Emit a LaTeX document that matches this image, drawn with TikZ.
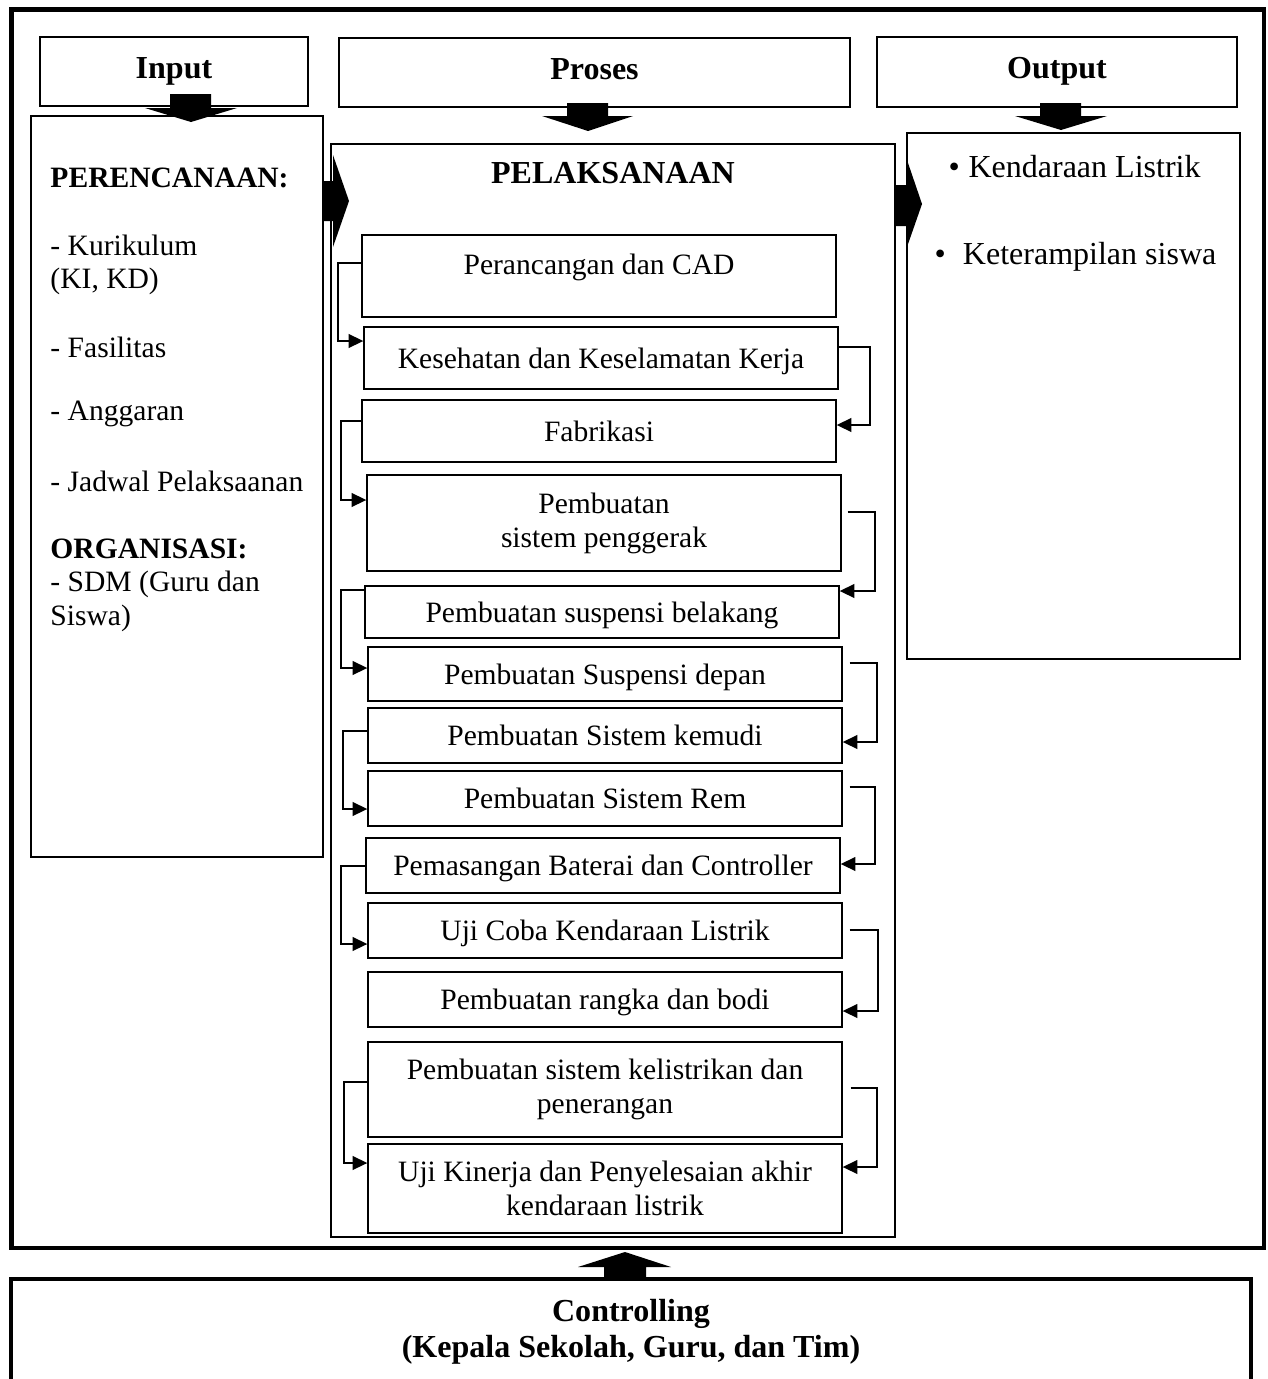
\documentclass[tikz,border=0pt]{standalone}
\usepackage{fontspec}
\setmainfont{Liberation Serif}
\usetikzlibrary{arrows.meta,calc}
\newcommand\boxat[7][]{\node[box,#1,minimum width={(#5-#3)*0.406pt},minimum height={(#6-#4)*0.406pt}] (#2) at ({(#3+#5)/2},{(#4+#6)/2}) {#7};}
\tikzset{
  box/.style={draw,line width=0.5pt,inner sep=0pt,align=center,font=\fontsize{12}{13.8}\selectfont},
  one/.style={text height=9.6pt,text depth=1.2pt},
  hdr/.style={font=\bfseries\fontsize{13}{15}\selectfont,text height=8.5pt,text depth=2.9pt},
  lst/.style={inner sep=0pt,anchor=west,font=\fontsize{12}{14}\selectfont},
  olst/.style={inner sep=0pt,anchor=west,font=\fontsize{13}{15}\selectfont},
  conn/.style={line width=0.9pt,-{Triangle[length=6pt,width=5.5pt]}},
  blk/.style={fill=black},
}
\begin{document}
\begin{tikzpicture}[x=0.406pt,y=-0.406pt]
\useasboundingbox (0,0) rectangle (1267,1379);
% outer frame
\boxat[line width=2pt]{frame}{11.5}{9.5}{1264}{1248}{}
% controlling box (bottom runs off the page)
\draw[line width=1.6pt] (11,1385) -- (11,1279) -- (1251,1279) -- (1251,1385);
\node[font=\bfseries\fontsize{13}{14.6}\selectfont,align=center,inner sep=0pt] (ctrl) at (631,1332) {Controlling\\(Kepala Sekolah, Guru, dan Tim)};
% headers
\boxat[hdr]{hin}{40}{37}{308}{106}{Input}
\boxat[hdr]{hpr}{339}{38}{850}{107}{Proses}
\boxat[hdr]{hout}{877}{37}{1237}{107}{Output}
% main columns
\boxat{L}{31}{116}{323}{857}{}
\boxat{P}{331}{144}{895}{1237}{}
\boxat{O}{907}{133}{1240}{659}{}
% left column texts
\node[lst,font=\bfseries\fontsize{12}{14}\selectfont] (l0) at (50,178) {PERENCANAAN:};
\node[lst] (l1) at (50,245) {- Kurikulum};
\node[lst] (l2) at (50,281) {(KI, KD)};
\node[lst] (l3) at (50,347) {- Fasilitas};
\node[lst] (l4) at (50,414) {- Anggaran};
\node[lst] (l5) at (50,481) {- Jadwal Pelaksaanan};
\node[lst,font=\bfseries\fontsize{12}{14}\selectfont] (l6) at (50,549) {ORGANISASI:};
\node[lst] (l7) at (50,584) {- SDM (Guru dan};
\node[lst] (l8) at (50,618) {Siswa)};
% output texts
\node[olst] (o1) at (948,167) {\textbullet\hspace{3.6pt}Kendaraan Listrik};
\node[olst] (o2) at (934,257) {\textbullet\hspace{7pt}Keterampilan siswa};
% pelaksanaan title
\node[hdr,inner sep=0pt] (ptitle) at (613,177) {PELAKSANAAN};
% steps
\boxat{s1}{362}{235}{836}{317}{}
\node[inner sep=0pt,font=\fontsize{12}{13.8}\selectfont] (t1) at (599,267) {Perancangan dan CAD};
\boxat[one]{s2}{364}{327}{838}{389}{Kesehatan dan Keselamatan Kerja}
\boxat[one]{s3}{362}{400}{836}{462}{Fabrikasi}
\boxat{s4}{367}{475}{841}{571}{Pembuatan\\sistem penggerak}
\boxat[one]{s5}{365}{586}{839}{638}{Pembuatan suspensi belakang}
\boxat[one]{s6}{368}{647}{842}{701}{Pembuatan Suspensi depan}
\boxat[one]{s7}{368}{708}{842}{763}{Pembuatan Sistem kemudi}
\boxat[one]{s8}{368}{771}{842}{826}{Pembuatan Sistem Rem}
\boxat[one]{s9}{366}{838}{840}{893}{Pemasangan Baterai dan Controller}
\boxat[one]{s10}{368}{903}{842}{958}{Uji Coba Kendaraan Listrik}
\boxat[one]{s11}{368}{972}{842}{1027}{Pembuatan rangka dan bodi}
\boxat{s12}{368}{1042}{842}{1137}{Pembuatan sistem kelistrikan dan\\penerangan}
\boxat{s13}{368}{1144}{842}{1233}{Uji Kinerja dan Penyelesaian akhir\\kendaraan listrik}
% left connectors
\draw[conn] (s1.west|-0,263) -| (338,341) -- (s2.west|-0,341);
\draw[conn] (s3.west|-0,421) -| (341,500) -- (s4.west|-0,500);
\draw[conn] (s5.west|-0,590) -| (341,668) -- (s6.west|-0,668);
\draw[conn] (s7.west|-0,731) -| (343,809) -- (s8.west|-0,809);
\draw[conn] (s9.west|-0,866) -| (341,944) -- (s10.west|-0,944);
\draw[conn] (s12.west|-0,1082) -| (344,1163) -- (s13.west|-0,1163);
% right connectors
\draw[conn] (s2.east|-0,347) -| (870,425) -- (s3.east|-0,425);
\draw[conn] ($(s4.east|-0,512)+(6,0)$) -| (875,591) -- (s5.east|-0,591);
\draw[conn] ($(s6.east|-0,663)+(7,0)$) -| (877,742) -- (s7.east|-0,742);
\draw[conn] ($(s8.east|-0,787)+(7,0)$) -| (875,864) -- (s9.east|-0,864);
\draw[conn] ($(s10.east|-0,930)+(7,0)$) -| (878,1011) -- (s11.east|-0,1011);
\draw[conn] ($(s12.east|-0,1088)+(8,0)$) -| (877,1167) -- (s13.east|-0,1167);
% block arrows
\fill[blk] (170,94) -- (211,94) -- (211,108) -- (237,108) -- (191,122) -- (145,108) -- (170,108) -- cycle;
\fill[blk] (567,103) -- (608,103) -- (608,116) -- (633,116) -- (588,131) -- (542,116) -- (567,116) -- cycle;
\fill[blk] (1040,103) -- (1081,103) -- (1081,116) -- (1107,116) -- (1061,130) -- (1015,116) -- (1040,116) -- cycle;
\fill[blk] (323,181) -- (333,181) -- (333,155) -- (349,201) -- (333,247) -- (333,221) -- (323,221) -- cycle;
\fill[blk] (894,185) -- (907,185) -- (907,160) -- (922,204) -- (907,247) -- (907,226) -- (894,226) -- cycle;
\fill[blk] (604,1279) -- (604,1267) -- (578,1267) -- (625,1252) -- (671,1267) -- (646,1267) -- (646,1279) -- cycle;
\end{tikzpicture}
\end{document}
